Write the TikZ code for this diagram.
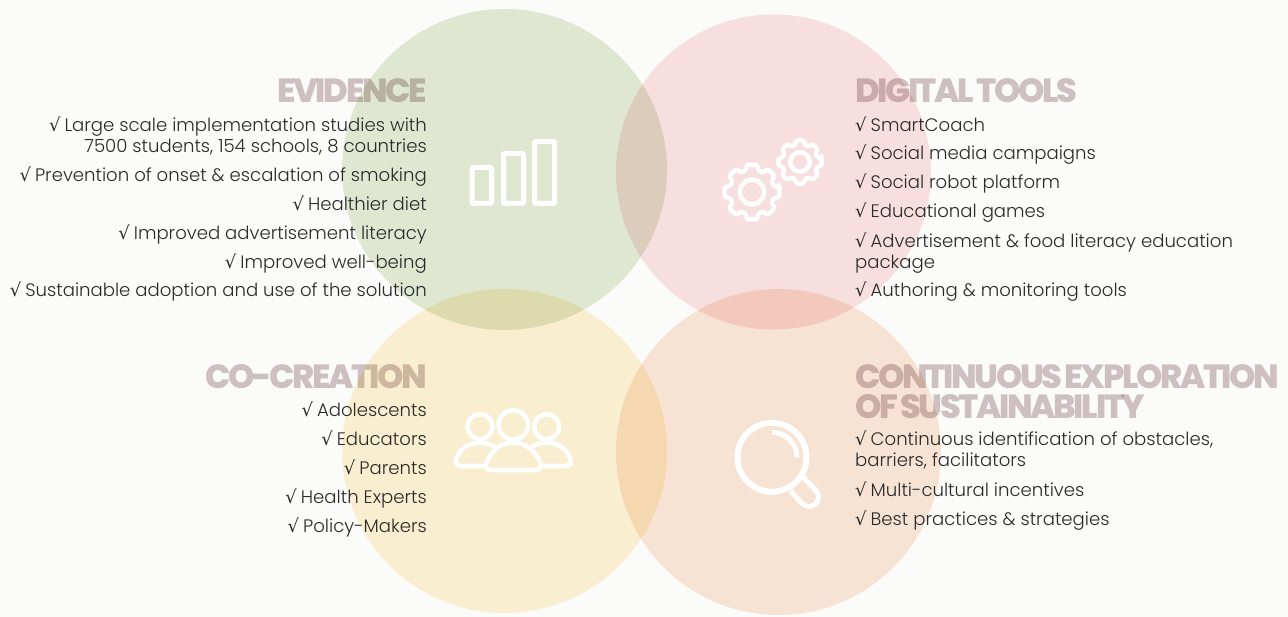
\documentclass[tikz,border=0pt]{standalone}
\usepackage{fontspec}
\setmainfont{Poppins}[UprightFont=* Light]
\newfontfamily\headfont{Poppins}[UprightFont=* ExtraBold,LetterSpace=-7,WordSpace=.6]
\newfontfamily\ckfont{DejaVu Sans}
\usetikzlibrary{calc}
\definecolor{bgc}{HTML}{FBFBF9}
\definecolor{greenc}{HTML}{E3EBD7}
\definecolor{pinkc}{HTML}{FBE2E5}
\definecolor{yellowc}{HTML}{FDF2D5}
\definecolor{orangec}{HTML}{FBE7D9}
\definecolor{headc}{HTML}{D2C4C5}
\definecolor{bodyc}{HTML}{2A2A2A}
\newcommand{\ck}{{\ckfont\fontsize{18}{21}\selectfont √}\hspace{4pt}}
\tikzset{
	head/.style={anchor=base west,inner sep=0pt,text=headc,align=left,font=\fontsize{33.5}{29}\headfont\selectfont},
	headl/.style={head,anchor=base east,align=right},
	iteml/.style={anchor=base east,inner sep=0pt,text=bodyc,align=right,font=\fontsize{18.1}{21}\selectfont},
	itemr/.style={anchor=base west,inner sep=0pt,text=bodyc,align=left,font=\fontsize{18.1}{21}\selectfont},
	icon/.style={draw=white,line width=4.5pt,line join=round},
	gear/.pic={
		\draw[icon,rounded corners=2.5pt] (-10:#1)
		\foreach \a in {0,45,...,315} {
			-- (\a-11:#1) -- (\a+11:#1) -- (\a+15:.8*#1) -- (\a+30:.8*#1)
		} -- cycle;
		\draw[icon] (0,0) circle (.44*#1);
	},
}
\begin{document}
\begin{tikzpicture}[x=1pt,y=-1pt]
		\useasboundingbox (0,0) rectangle (1288,617);
		\fill[bgc] (0,0) rectangle (1288,617);
		\coordinate (1) at (504.5,169.5);
		\coordinate (2) at (773.5,172);
		\coordinate (3) at (504.5,451);
		\coordinate (4) at (778.5,452);
		\begin{scope}[blend mode=multiply]
		\fill[greenc] (1) ellipse (162.5 and 160.5);
		\fill[pinkc] (2) circle (157.5);
		\fill[yellowc] (3) ellipse (162.5 and 162);
		\fill[orangec] (4) ellipse (162.5 and 163);
		% headings
		\node[headl] (evidence) at (427,103) {EVIDENCE};
		\node[head] (tools) at (855,103) {DIGITAL TOOLS};
		\node[headl] (cocreation) at (427,389) {CO-CREATION};
		\node[head] (explore) at (855,418) {CONTINUOUS EXPLORATION\\OF SUSTAINABILITY};
		\end{scope}
		% evidence
		\node[iteml] (e1) at (427,153) {\ck Large scale implementation studies with\\7500 students, 154 schools, 8 countries};
		\node[iteml] (e2) at (427,182) {\ck Prevention of onset \& escalation of smoking};
		\node[iteml] (e3) at (427,211) {\ck Healthier diet};
		\node[iteml] (e4) at (427,240) {\ck Improved advertisement literacy};
		\node[iteml] (e5) at (427,269) {\ck Improved well-being};
		\node[iteml] (e6) at (427,297) {\ck Sustainable adoption and use of the solution};
		% digital tools
		\node[itemr] (d1) at (855,132) {\ck SmartCoach};
		\node[itemr] (d2) at (855,160) {\ck Social media campaigns};
		\node[itemr] (d3) at (855,189) {\ck Social robot platform};
		\node[itemr] (d4) at (855,218) {\ck Educational games};
		\node[itemr] (d5) at (855,269) {\ck Advertisement \& food literacy education\\package};
		\node[itemr] (d6) at (855,297) {\ck Authoring \& monitoring tools};
		% co-creation
		\node[iteml] (c1) at (427,417) {\ck Adolescents};
		\node[iteml] (c2) at (427,446) {\ck Educators};
		\node[iteml] (c3) at (427,475) {\ck Parents};
		\node[iteml] (c4) at (427,503) {\ck Health Experts};
		\node[iteml] (c5) at (427,532) {\ck Policy-Makers};
		% sustainability
		\node[itemr] (s1) at (855,467) {\ck Continuous identification of obstacles,\\barriers, facilitators};
		\node[itemr] (s2) at (855,496) {\ck Multi-cultural incentives};
		\node[itemr] (s3) at (855,525) {\ck Best practices \& strategies};
		% bars
		\draw[icon,line width=5pt,rounded corners=1pt] (472,167.5) rectangle (491.5,203.5);
		\draw[icon,line width=5pt,rounded corners=1pt] (503.5,153.5) rectangle (523.5,203.5);
		\draw[icon,line width=5pt,rounded corners=1pt] (534.5,141.5) rectangle (554.5,203.5);
		% gears
		\pic at (752,192) {gear=28};
		\pic at (800,162) {gear=22};
		% people
		\draw[icon] (480,426.7) circle (12.5);
		\draw[icon] (513.3,425) circle (14.7);
		\draw[icon] (546.7,426.7) circle (12.5);
		\draw[icon] (485,466) -- (461,466) .. controls (456,466) and (455,463) .. (456,460) .. controls (459,449) and (469,442.5) .. (480,442.5) .. controls (485,442.5) and (491,444) .. (495,447);
		\draw[icon] (541.6,466) -- (565.6,466) .. controls (570.6,466) and (571.6,463) .. (570.6,460) .. controls (567.6,449) and (557.6,442.5) .. (546.6,442.5) .. controls (541.6,442.5) and (535.6,444) .. (531.6,447);
		\draw[icon] (491,470) .. controls (487,470) and (485,467) .. (486,464) .. controls (490,451) and (501,442.5) .. (513.3,442.5) .. controls (525.6,442.5) and (536.6,451) .. (540.6,464) .. controls (541.6,467) and (539.6,470) .. (535.6,470) -- cycle;
		% magnifier
		\draw[icon,line width=6pt] (772,457.3) circle (34.5);
		\draw[icon,line width=5pt] (772,432.3) arc (270:360:25);
		\draw[icon,line width=5pt] (790.5,491) -- (802.3,503.7) arc (135:-45:9.5) -- (802,476);
	\end{tikzpicture}
\end{document}
